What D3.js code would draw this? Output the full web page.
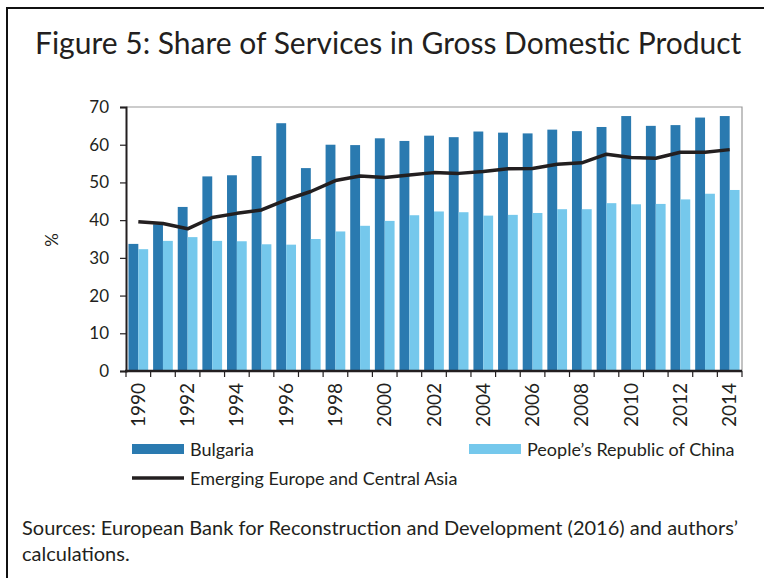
<!DOCTYPE html>
<meta charset="utf-8">
<script src="https://d3js.org/d3.v7.min.js"></script>
<style>
  body { margin: 0; background: #fff; }
  text { font-family: Lato, "Open Sans", sans-serif; fill: #231f20; }
</style>
<div id="chart"></div>
<script>
  // data
  var years = d3.range(1990, 2015)
  var bulgaria = [33.7, 38.9, 43.5, 51.6, 51.9, 57.0, 65.7, 53.8, 60.0, 59.9, 61.7, 61.0, 62.4,
                  62.0, 63.5, 63.2, 63.0, 64.0, 63.6, 64.7, 67.6, 65.0, 65.2, 67.2, 67.6]
  var china = [32.3, 34.5, 35.5, 34.5, 34.4, 33.6, 33.5, 35.0, 37.0, 38.5, 39.8, 41.3, 42.3,
               42.1, 41.2, 41.4, 41.9, 42.9, 42.9, 44.5, 44.2, 44.3, 45.5, 47.0, 48.0]
  var emerging = [39.6, 39.1, 37.7, 40.7, 41.8, 42.7, 45.4, 47.6, 50.5, 51.7, 51.3, 52.0, 52.6,
                  52.4, 52.9, 53.6, 53.7, 54.8, 55.2, 57.5, 56.6, 56.4, 58.0, 58.0, 58.7]
  var yTicks = [0, 10, 20, 30, 40, 50, 60, 70]
  var seriesNames = ["Bulgaria", "People\u2019s Republic of China", "Emerging Europe and Central Asia"]

  var width = 764, height = 578
  var colBul = "#2a7ab0", colChn = "#75c8ec", colLine = "#231f20"

  var svg = d3.select("#chart").append("svg")
    .attr("width", width)
    .attr("height", height)

  // frame (top and left only)
  svg.append("path")
    .attr("d", "M7,578 V8 H764")
    .attr("fill", "none")
    .attr("stroke", "#111")
    .attr("stroke-width", 2)

  svg.append("text")
    .attr("x", 35).attr("y", 54)
    .style("font-size", "30px")
    .text("Figure 5: Share of Services in Gross Domestic Product")

  var pLeft = 126, pRight = 742, pTop = 107, pBottom = 371

  var x = d3.scaleBand()
    .domain(years)
    .range([pLeft, pRight])
    .paddingInner(0.2)
    .paddingOuter(0.1)

  var x1 = d3.scaleBand()
    .domain(["b", "c"])
    .range([0, x.bandwidth()])

  var y = d3.scaleLinear()
    .domain([0, 70])
    .range([pBottom, pTop])

  // gray border top/right
  svg.append("path")
    .attr("d", "M" + pLeft + "," + pTop + " H" + pRight + " V" + pBottom)
    .attr("fill", "none")
    .attr("stroke", "#9a9a9a")
    .attr("stroke-width", 1.2)

  // bars
  var g = svg.append("g")
  g.selectAll(".bul")
    .data(years)
    .enter().append("rect")
      .attr("x", function(d) { return x(d) + x1("b") })
      .attr("width", x1.bandwidth())
      .attr("y", function(d, i) { return y(bulgaria[i]) })
      .attr("height", function(d, i) { return y(0) - y(bulgaria[i]) })
      .attr("fill", colBul)
  g.selectAll(".chn")
    .data(years)
    .enter().append("rect")
      .attr("x", function(d) { return x(d) + x1("c") })
      .attr("width", x1.bandwidth())
      .attr("y", function(d, i) { return y(china[i]) })
      .attr("height", function(d, i) { return y(0) - y(china[i]) })
      .attr("fill", colChn)

  // line
  var line = d3.line()
    .x(function(d, i) { return x(years[i]) + x.bandwidth() / 2 })
    .y(function(d) { return y(d) })
  svg.append("path")
    .datum(emerging)
    .attr("d", line)
    .attr("fill", "none")
    .attr("stroke", colLine)
    .attr("stroke-width", 3.5)
    .attr("stroke-linejoin", "round")

  // y axis
  var yAxis = svg.append("g")
    .attr("transform", "translate(" + pLeft + ",0)")
    .call(d3.axisLeft(y).tickValues(yTicks).tickSize(6).tickPadding(11))
  yAxis.select(".domain").attr("stroke", "#231f20").attr("stroke-width", 2)
  yAxis.selectAll(".tick line").attr("stroke", "#231f20").attr("stroke-width", 1.2)
  yAxis.selectAll("text")
    .style("font-size", "17px")
    .style("font-family", "Lato, sans-serif")
    .attr("fill", "#231f20")

  // x axis ticks at band edges
  var step = x.step()
  var edges = years.map(function(d) { return x(d) - step * x.paddingInner() / 2 })
  edges.push(pRight)
  svg.append("g").selectAll("line")
    .data(edges)
    .enter().append("line")
      .attr("x1", function(d) { return d }).attr("x2", function(d) { return d })
      .attr("y1", pBottom).attr("y2", pBottom + 6)
      .attr("stroke", "#231f20").attr("stroke-width", 1.2)
  svg.append("line")
    .attr("x1", pLeft - 1).attr("x2", pRight)
    .attr("y1", pBottom).attr("y2", pBottom)
    .attr("stroke", "#231f20").attr("stroke-width", 2.5)

  // x labels, every second year, rotated
  svg.append("g").selectAll("text")
    .data(years.filter(function(d) { return d % 2 === 0 }))
    .enter().append("text")
      .attr("transform", function(d) {
        return "translate(" + (x(d) + x.bandwidth() / 2 + 6.5) + "," + (pBottom + 12) + ") rotate(-90)"
      })
      .attr("text-anchor", "end")
      .style("font-size", "19px")
      .text(function(d) { return d })

  svg.append("text")
    .attr("transform", "translate(58,240) rotate(-90)")
    .attr("text-anchor", "middle")
    .style("font-size", "17px")
    .text("%")

  // legend
  svg.append("rect").attr("x", 132).attr("y", 444).attr("width", 52).attr("height", 10).attr("fill", colBul)
  svg.append("text").attr("x", 190).attr("y", 456).style("font-size", "18px").text(seriesNames[0])
  svg.append("rect").attr("x", 469).attr("y", 444).attr("width", 52).attr("height", 10).attr("fill", colChn)
  svg.append("text").attr("x", 527).attr("y", 456).style("font-size", "18px").text(seriesNames[1])
  svg.append("line").attr("x1", 132).attr("x2", 184).attr("y1", 478).attr("y2", 478)
    .attr("stroke", colLine).attr("stroke-width", 3.5)
  svg.append("text").attr("x", 190).attr("y", 485).style("font-size", "18px").text(seriesNames[2])

  // sources note
  svg.append("text").attr("x", 22).attr("y", 535).style("font-size", "20px")
    .text("Sources: European Bank for Reconstruction and Development (2016) and authors\u2019")
  svg.append("text").attr("x", 22).attr("y", 561).style("font-size", "20px")
    .text("calculations.")
</script>
